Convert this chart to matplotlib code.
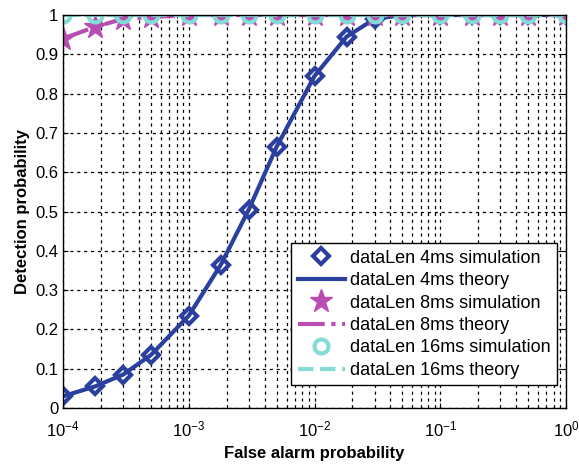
import matplotlib
matplotlib.use("Agg")
import matplotlib.pyplot as plt
import numpy as np
from matplotlib.ticker import LogLocator, FormatStrFormatter, NullLocator

plt.rcParams["font.family"] = ["Liberation Sans", "DejaVu Sans"]
plt.rcParams["mathtext.fontset"] = "custom"
plt.rcParams["mathtext.rm"] = "Liberation Sans"
plt.rcParams["mathtext.it"] = "Liberation Sans:italic"

# false alarm probabilities (x) shared by all series
pfa = [1e-4, 1.8e-4, 3e-4, 5e-4, 1e-3, 1.8e-3, 3e-3, 5e-3, 1e-2, 1.8e-2,
       3e-2, 5e-2, 1e-1, 1.8e-1, 3e-1, 5e-1, 1.0]

# detection probabilities
pd_4ms_sim = [0.03, 0.055, 0.085, 0.135, 0.235, 0.365, 0.505, 0.665, 0.845,
              0.945, 0.99, 1.0, 1.0, 1.0, 1.0, 1.0, 1.0]
pd_4ms_theory = [0.03, 0.055, 0.085, 0.135, 0.235, 0.365, 0.505, 0.665, 0.845,
                 0.945, 0.99, 1.0, 1.0, 1.0, 1.0, 1.0, 1.0]
pd_8ms_sim = [0.94, 0.97, 0.99, 0.995, 1.0, 1.0, 1.0, 1.0, 1.0, 1.0,
              1.0, 1.0, 1.0, 1.0, 1.0, 1.0, 1.0]
pd_8ms_theory = [0.94, 0.97, 0.99, 0.995, 1.0, 1.0, 1.0, 1.0, 1.0, 1.0,
                 1.0, 1.0, 1.0, 1.0, 1.0, 1.0, 1.0]
pd_16ms_sim = [1.0] * 17
pd_16ms_theory = [1.0] * 17
y_ticks = [0, 0.1, 0.2, 0.3, 0.4, 0.5, 0.6, 0.7, 0.8, 0.9, 1.0]

blue = "#2b3f9e"
magenta = "#b94db3"
cyan = "#85dcd6"

fig = plt.figure(figsize=(5.79, 4.65), dpi=100)
ax = fig.add_axes([0.109, 0.1226, 0.8685, 0.8451])

ax.plot(pfa, pd_4ms_sim, linestyle="none", marker="D", markersize=8,
        markerfacecolor="white", markeredgecolor=blue, markeredgewidth=3,
        label="dataLen 4ms simulation")
ax.plot(pfa, pd_4ms_theory, color=blue, lw=3, label="dataLen 4ms theory")
ax.plot(pfa, pd_8ms_sim, linestyle="none", marker="*", markersize=17,
        color=magenta, label="dataLen 8ms simulation")
ax.plot(pfa, pd_8ms_theory, color=magenta, lw=3, linestyle="-.",
        label="dataLen 8ms theory")
ax.plot(pfa, pd_16ms_sim, linestyle="none", marker="o", markersize=10,
        markerfacecolor="none", markeredgecolor=cyan, markeredgewidth=3,
        label="dataLen 16ms simulation")
ax.plot(pfa, pd_16ms_theory, color=cyan, lw=3, linestyle="--",
        label="dataLen 16ms theory")

ax.set_xscale("log")
ax.set_xlim(1e-4, 1)
ax.xaxis.set_major_locator(LogLocator(base=10, numticks=10))
ax.xaxis.set_minor_locator(LogLocator(base=10, subs=np.arange(2, 10), numticks=20))
ax.set_yticks(y_ticks)
ax.yaxis.set_major_formatter(FormatStrFormatter("%g"))
ax.yaxis.set_minor_locator(NullLocator())
ax.set_ylim(0, 1)

ax.grid(which="both", color="black", linestyle=(0, (2.5, 3)), lw=0.9)
ax.tick_params(which="both", direction="in", labelsize=12, top=True, right=True)
ax.tick_params(which="minor", length=2)
ax.tick_params(axis="x", pad=8)
ax.set_axisbelow(True)
for s in ax.spines.values():
    s.set_linewidth(1.0)

ax.set_xlabel("False alarm probability", fontsize=12, fontweight="bold",
              labelpad=5)
ax.set_ylabel("Detection probability", fontsize=12, fontweight="bold")

leg = ax.legend(loc="lower right", bbox_to_anchor=(0.982, 0.058),
                fontsize=13, fancybox=False, framealpha=1, edgecolor="black",
                handlelength=2.6, borderaxespad=0, labelspacing=0.3,
                handletextpad=0.3, borderpad=0.35)
leg.get_frame().set_linewidth(1.0)

fig.savefig("out.png", dpi=100)
